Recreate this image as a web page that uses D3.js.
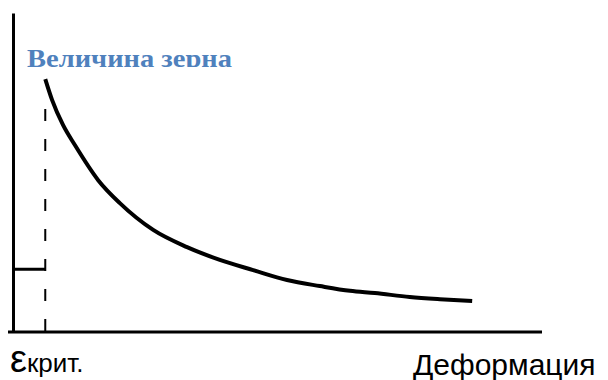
<!DOCTYPE html>
<html>
<head>
<meta charset="utf-8">
<script src="https://cdn.jsdelivr.net/npm/d3@7"></script>
<style>
  body { margin: 0; background: #fff; }
</style>
</head>
<body>
<div id="chart"></div>
<script>
// curve: deformation (x) vs grain size (y), arbitrary units 0..100
var deform = [6.1, 7.4, 9.45, 11.7, 16.1, 20.2, 26.5, 32.9, 39.1, 45.4, 51.8, 58.0, 63.7, 68.4, 75.0, 80.7, 86.8];
var grain  = [79.3, 72.7, 64.9, 58.6, 47.6, 40.4, 32.0, 26.6, 22.6, 19.4, 16.3, 14.4, 12.9, 12.2, 11.0, 10.3, 9.7];
var epsCrit = 6.1;      // critical deformation
var grainBelow = 19.7;  // grain size below critical deformation
var dashTop = 69.9;     // where the dashed guide starts

var yLabel = "Величина зерна";
var xLabel = "Деформация";
var epsLabel = "ε";
var epsSub = "крит.";

var width = 608, height = 380;
var margin = {top: 13, right: 66, bottom: 48, left: 13};

var svg = d3.select("#chart").append("svg")
    .attr("width", width)
    .attr("height", height);

// set the ranges
var x = d3.scaleLinear().domain([0, 100]).range([margin.left, width - margin.right]);
var y = d3.scaleLinear().domain([0, 100]).range([height - margin.bottom, margin.top]);

// axes, no ticks
svg.append("g")
    .attr("transform", "translate(0," + y(0) + ")")
    .call(d3.axisBottom(x).tickValues([]).tickSizeOuter(0))
    .select(".domain")
    .attr("d", "M" + (x(0) - 5) + ",0H" + x(100))
    .attr("stroke", "#000")
    .attr("stroke-width", 3);

svg.append("g")
    .attr("transform", "translate(" + x(0) + ",0)")
    .call(d3.axisLeft(y).tickValues([]).tickSizeOuter(0))
    .select(".domain")
    .attr("stroke", "#000")
    .attr("stroke-width", 3);

// dashed guide at critical deformation
svg.append("line")
    .attr("x1", x(epsCrit)).attr("x2", x(epsCrit))
    .attr("y1", y(dashTop)).attr("y2", y(0))
    .attr("stroke", "#000")
    .attr("stroke-width", 2)
    .attr("stroke-dasharray", "12,18");

// step: grain size stays constant below critical deformation
svg.append("line")
    .attr("x1", x(0)).attr("x2", x(epsCrit))
    .attr("y1", y(grainBelow)).attr("y2", y(grainBelow))
    .attr("stroke", "#000")
    .attr("stroke-width", 3);

// the curve
var pts = deform.map(function(d, i) { return {d: d, g: grain[i]}; });
var line = d3.line()
    .x(function(d) { return x(d.d); })
    .y(function(d) { return y(d.g); })
    .curve(d3.curveMonotoneX);

svg.append("path")
    .datum(pts)
    .attr("d", line)
    .attr("fill", "none")
    .attr("stroke", "#000")
    .attr("stroke-width", 4);

// labels
svg.append("clipPath").attr("id", "titleClip")
  .append("rect").attr("x", 0).attr("y", 0).attr("width", width).attr("height", 67);

svg.append("text")
    .attr("x", 27)
    .attr("y", 67)
    .attr("clip-path", "url(#titleClip)")
    .attr("font-family", "'Liberation Serif', serif")
    .attr("font-weight", "bold")
    .attr("font-size", 26)
    .attr("fill", "#4F81BD")
    .attr("textLength", 205)
    .attr("lengthAdjust", "spacingAndGlyphs")
    .text(yLabel);

svg.append("text")
    .attr("x", 413)
    .attr("y", 375)
    .attr("font-family", "'Liberation Sans', Arial, sans-serif")
    .attr("font-size", 30)
    .attr("fill", "#000")
    .text(xLabel);

var eps = svg.append("text")
    .attr("x", 10)
    .attr("y", 372)
    .attr("font-family", "'Liberation Sans', Arial, sans-serif")
    .attr("fill", "#000");
eps.append("tspan").attr("font-size", 38).text(epsLabel);
eps.append("tspan").attr("font-size", 26).text(epsSub);
</script>
</body>
</html>
